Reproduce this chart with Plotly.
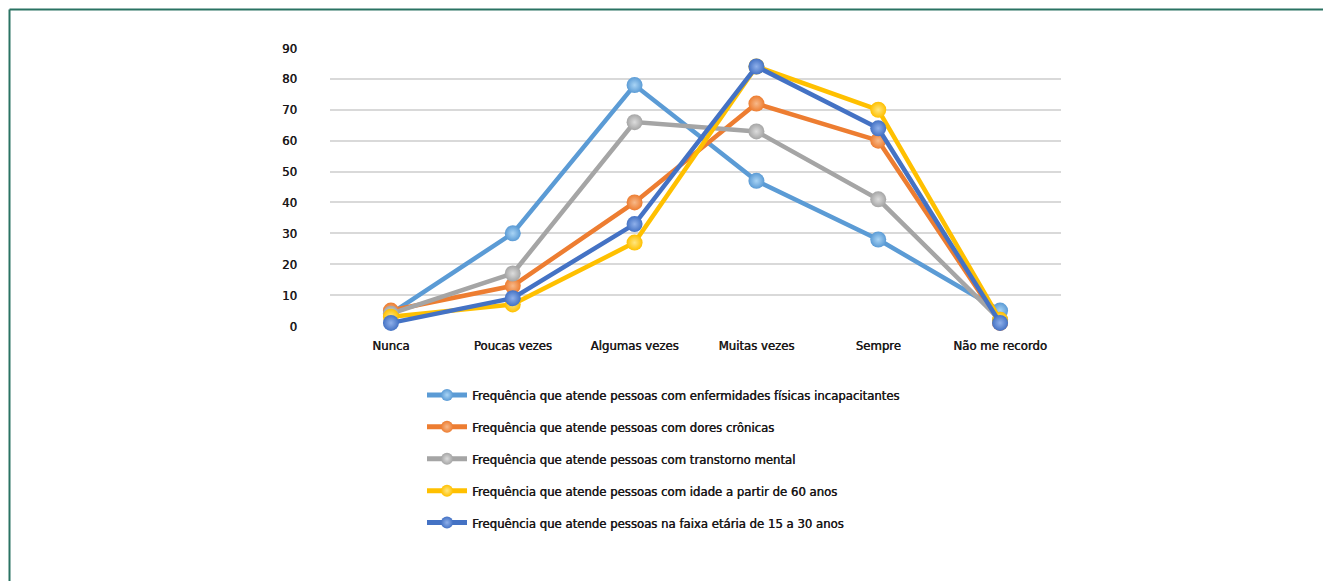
import plotly.graph_objects as go

categories = ["Nunca", "Poucas vezes", "Algumas vezes", "Muitas vezes", "Sempre", "Não me recordo"]

enfermidades_fisicas = [4, 30, 78, 47, 28, 5]
dores_cronicas = [5, 13, 40, 72, 60, 1]
transtorno_mental = [4, 17, 66, 63, 41, 2]
idade_60 = [3, 7, 27, 84, 70, 2]
faixa_15_30 = [1, 9, 33, 84, 64, 1]

series_names = [
    "Frequência que atende pessoas com enfermidades físicas incapacitantes",
    "Frequência que atende pessoas com dores crônicas",
    "Frequência que atende pessoas com transtorno mental",
    "Frequência que atende pessoas com idade a partir de 60 anos",
    "Frequência que atende pessoas na faixa etária de 15 a 30 anos",
]
series_values = [enfermidades_fisicas, dores_cronicas, transtorno_mental, idade_60, faixa_15_30]
line_colors = ["#5b9bd5", "#ed7d31", "#a5a5a5", "#ffc000", "#4472c4"]
highlight_colors = ["#a9d4f5", "#f7b98a", "#dcdcdc", "#ffe680", "#8fb0ea"]

W, H = 1323, 581
L, R, T, B = 330, 262, 48, 255
font_family = "DejaVu Sans Condensed, Liberation Sans Narrow, sans-serif"
text_color = "#1a1718"
# slight horizontal shadow thickens the condensed glyphs
heavy = "0.45px 0 0 #1a1718"

fig = go.Figure()
for name, vals, col, hi in zip(series_names, series_values, line_colors, highlight_colors):
    fig.add_trace(go.Scatter(
        x=categories, y=vals, name=name, mode="lines+markers",
        line=dict(color=col, width=4.5),
        marker=dict(size=16, color=col, line=dict(width=0),
                    gradient=dict(type="radial", color=hi)),
        cliponaxis=False,
        legendgroup=name,
    ))

# pixel -> paper coordinate helpers
pw = W - L - R
ph = H - T - B
def px_x(x):
    return (x - L) / pw
def px_y(y):
    return (H - B - y) / ph

# frame around the figure
fig.add_shape(type="line", xref="paper", yref="paper",
              x0=px_x(9.5), x1=px_x(W + 5), y0=px_y(9.5), y1=px_y(9.5),
              line=dict(color="#2a7363", width=2))
fig.add_shape(type="line", xref="paper", yref="paper",
              x0=px_x(9.5), x1=px_x(9.5), y0=px_y(9.5), y1=px_y(H + 5),
              line=dict(color="#2a7363", width=2))

tick_font = dict(family=font_family, size=13, color=text_color, shadow=heavy)

fig.update_layout(
    width=W, height=H,
    margin=dict(l=L, r=R, t=T, b=B, pad=0, autoexpand=False),
    paper_bgcolor="white", plot_bgcolor="white",
    font=dict(family=font_family, color=text_color, size=13),
    showlegend=True,
    legend=dict(
        x=px_x(422), y=px_y(380), xanchor="left", yanchor="top",
        orientation="v", tracegroupgap=12, itemwidth=40, itemsizing="constant",
        font=dict(family=font_family, size=13, color=text_color, shadow=heavy),
        bgcolor="rgba(0,0,0,0)",
    ),
    xaxis=dict(
        type="category", range=[-0.5, 5.5], automargin=False,
        showgrid=False, zeroline=False, showline=False,
        ticks="", ticklabelstandoff=10, tickangle=0,
        tickfont=tick_font,
    ),
    yaxis=dict(
        range=[0, 90], tickvals=list(range(0, 91, 10)), automargin=False,
        showgrid=True, gridcolor="#d9d9d9", gridwidth=1.5,
        zeroline=False, showline=False, ticks="",
        ticklabelstandoff=32,
        tickfont=tick_font,
    ),
)

fig.write_html("out.html")
